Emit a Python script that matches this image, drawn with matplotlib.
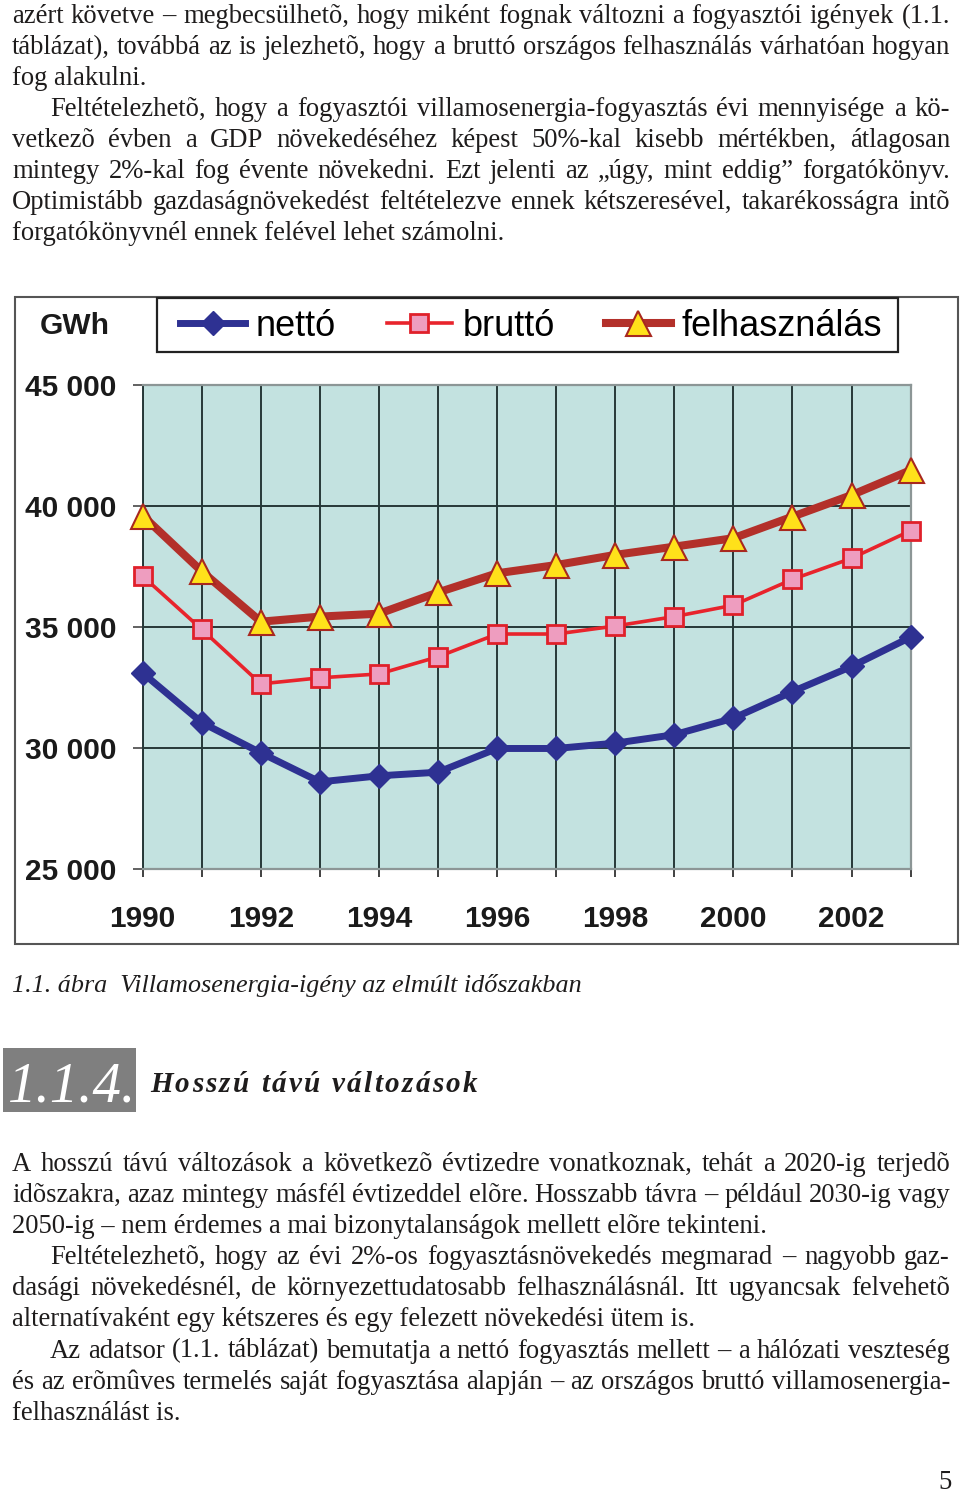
import matplotlib
matplotlib.use("Agg")
import matplotlib.pyplot as plt
from matplotlib.font_manager import FontProperties
from matplotlib.patches import Rectangle

# ---------------- data ----------------
years = [1990, 1991, 1992, 1993, 1994, 1995, 1996, 1997, 1998, 1999, 2000, 2001, 2002, 2003]
netto = [33100, 31050, 29800, 28600, 28850, 29000, 29980, 29980, 30200, 30550, 31230, 32330, 33370, 34580]
brutto = [37100, 34900, 32650, 32900, 33060, 33770, 34710, 34710, 35040, 35430, 35900, 36970, 37840, 38980]
felhasznalas = [39600, 37300, 35220, 35430, 35550, 36430, 37220, 37560, 37980, 38320, 38670, 39560, 40450, 41480]
series_names = ["nettó", "bruttó", "felhasználás"]
y_ticks = [25000, 30000, 35000, 40000, 45000]
y_tick_labels = ["25 000", "30 000", "35 000", "40 000", "45 000"]
x_tick_labels = [str(y) if y % 2 == 0 else "" for y in years]
unit_label = "GWh"

para1 = [
    ("azért követve – megbecsülhetõ, hogy miként fognak változni a fogyasztói igények (1.1.", 0, True),
    ("táblázat), továbbá az is jelezhetõ, hogy a bruttó országos felhasználás várhatóan hogyan", 0, True),
    ("fog alakulni.", 0, False),
    ("Feltételezhetõ, hogy a fogyasztói villamosenergia-fogyasztás évi mennyisége a kö-", 1, True),
    ("vetkezõ évben a GDP növekedéséhez képest 50%-kal kisebb mértékben, átlagosan", 0, True),
    ("mintegy 2%-kal fog évente növekedni. Ezt jelenti az „úgy, mint eddig” forgatókönyv.", 0, True),
    ("Optimistább gazdaságnövekedést feltételezve ennek kétszeresével, takarékosságra intõ", 0, True),
    ("forgatókönyvnél ennek felével lehet számolni.", 0, False),
]
para2 = [
    ("A hosszú távú változások a következõ évtizedre vonatkoznak, tehát a 2020-ig terjedõ", 0, True),
    ("idõszakra, azaz mintegy másfél évtizeddel elõre. Hosszabb távra – például 2030-ig vagy", 0, True),
    ("2050-ig – nem érdemes a mai bizonytalanságok mellett elõre tekinteni.", 0, False),
    ("Feltételezhetõ, hogy az évi 2%-os fogyasztásnövekedés megmarad – nagyobb gaz-", 1, True),
    ("dasági növekedésnél, de környezettudatosabb felhasználásnál. Itt ugyancsak felvehetõ", 0, True),
    ("alternatívaként egy kétszeres és egy felezett növekedési ütem is.", 0, False),
    ("Az adatsor (1.1. táblázat) bemutatja a nettó fogyasztás mellett – a hálózati veszteség", 1, True),
    ("és az erõmûves termelés saját fogyasztása alapján – az országos bruttó villamosenergia-", 0, True),
    ("felhasználást is.", 0, False),
]
caption = "1.1. ábra  Villamosenergia-igény az elmúlt időszakban"
sec_num = "1.1.4."
sec_title = "Hosszú távú változások"
page_no = "5"

# ---------------- figure ----------------
W, H = 960, 1497
fig = plt.figure(figsize=(W / 100, H / 100), dpi=100)
fig.patch.set_facecolor("white")
renderer = fig.canvas.get_renderer()

TXT = "#1e1c1c"
serif = FontProperties(family="Liberation Serif", size=19.2)


def fx(x):
    return x / W


def fy(y):
    return 1 - y / H


def tw(s, fp):
    w, h, d = renderer.get_text_width_height_descent(s, fp, ismath=False)
    return w


def put_line(text, x0, x1, yb, fp, justify, color=TXT):
    words = text.split(" ")
    if not justify or len(words) == 1:
        fig.text(fx(x0), fy(yb), text, fontproperties=fp, va="baseline", ha="left", color=color)
        return
    ws = [tw(w, fp) for w in words]
    gap = (x1 - x0 - sum(ws)) / (len(words) - 1)
    x = x0
    for w, wd in zip(words, ws):
        fig.text(fx(x), fy(yb), w, fontproperties=fp, va="baseline", ha="left", color=color)
        x += wd + gap


def put_tracked(text, x0, yb, fp, track, color=TXT):
    x = x0
    for ch in text:
        if ch != " ":
            fig.text(fx(x), fy(yb), ch, fontproperties=fp, va="baseline", ha="left", color=color)
            x += tw(ch, fp) + track
        else:
            x += fp.get_size_in_points() * 100 / 72 * 0.25 + track


LM, RM, IND = 12, 950, 50
for i, (t, ind, just) in enumerate(para1):
    put_line(t, LM + (IND - LM) * ind, RM, 23 + 31 * i, serif, just)
for i, (t, ind, just) in enumerate(para2):
    put_line(t, LM + (IND - LM) * ind, RM, 1171 + 31.1 * i, serif, just)

# caption
cap_fp = FontProperties(family="Liberation Serif", style="italic", size=18.8)
fig.text(fx(12), fy(992), caption, fontproperties=cap_fp, va="baseline", ha="left", color=TXT)

# section heading
fig.patches.append(Rectangle((fx(3), fy(1112)), (136 - 3) / W, (1112 - 1048) / H,
                             transform=fig.transFigure, facecolor="#7f7f7f", edgecolor="none"))
num_fp = FontProperties(family="Liberation Serif", style="italic", size=41)
fig.text(fx(8), fy(1102), sec_num, fontproperties=num_fp, va="baseline", ha="left", color="white")
head_fp = FontProperties(family="Liberation Serif", style="italic", weight="bold", size=21)
put_tracked(sec_title, 150, 1092, head_fp, 2.3)

# page number
fig.text(fx(945), fy(1489), page_no, fontproperties=serif, va="baseline", ha="center", color=TXT)

# ---------------- chart ----------------
fig.patches.append(Rectangle((fx(15), fy(944)), (958 - 15) / W, (944 - 297) / H,
                             transform=fig.transFigure, facecolor="none", edgecolor="#555555", lw=1.5))

axL, axR, axT, axB = 142.7, 910.6, 385, 869
ax = fig.add_axes([fx(axL), fy(axB), (axR - axL) / W, (axB - axT) / H])
ax.set_facecolor("#c3e2e0")

h1, = ax.plot(years, netto, color="#2e3192", lw=5.0, marker="D", ms=12.5, mfc="#2e3192",
              mec="#2e3192", label=series_names[0], zorder=3, clip_on=False)
h2, = ax.plot(years, brutto, color="#e8242c", lw=2.6, marker="s", ms=13.5, mfc="#ee9dbf",
              mec="#e0202a", mew=2, label=series_names[1], zorder=3, clip_on=False)
h3, = ax.plot(years, felhasznalas, color="#b3302a", lw=5.8, marker="^", ms=18, mfc="#ffe11a",
              mec="#a8281f", mew=1.5, label=series_names[2], zorder=4, clip_on=False)

ax.set_xlim(years[0], years[-1])
ax.set_ylim(y_ticks[0], y_ticks[-1])
sans_b = dict(family="Liberation Sans", weight="bold", size=21.5)
ax.set_xticks(years)
ax.set_xticklabels(x_tick_labels, **sans_b, color="#1a1a1a")
ax.set_yticks(y_ticks)
ax.set_yticklabels(y_tick_labels, **sans_b, color="#1a1a1a")
ax.tick_params(axis="x", length=5.8, width=1.3, color="#333333", pad=20)
ax.tick_params(axis="y", length=7.2, width=1.3, color="#555555", pad=12)

ax.grid(True, color="#263838", lw=1.4)
ax.set_axisbelow(True)
ax.spines["left"].set_color("#263838")
ax.spines["left"].set_linewidth(1.4)
for s in ("top", "bottom", "right"):
    ax.spines[s].set_color("#8c9696")
    ax.spines[s].set_linewidth(1.6)

fig.text(fx(40), fy(326), unit_label, family="Liberation Sans", weight="bold", size=21.5,
         va="center", ha="left", color="#1a1a1a")

# legend frame + legend content
fig.patches.append(Rectangle((fx(157), fy(352)), (898 - 157) / W, (352 - 298) / H,
                             transform=fig.transFigure, facecolor="white", edgecolor="#222222", lw=1.6))
leg = fig.legend(handles=[h1, h2, h3], loc="center",
                 bbox_to_anchor=(fx(180), fy(354), (882 - 180) / W, (354 - 298) / H),
                 mode="expand", ncol=3, frameon=False, borderaxespad=0,
                 prop=FontProperties(family="Liberation Sans", size=26),
                 handlelength=1.8, handletextpad=0.3, borderpad=0, columnspacing=1.0)

fig.savefig("out.png", dpi=100, facecolor="white")
